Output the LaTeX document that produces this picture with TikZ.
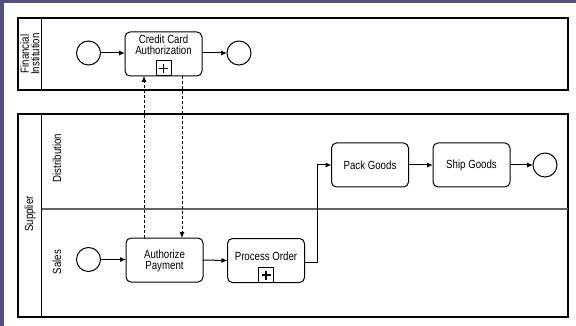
\documentclass[tikz,border=0pt]{standalone}
\usepackage{fontspec}
\setmainfont[FakeStretch=0.82]{Liberation Sans}
\usetikzlibrary{arrows.meta}
\definecolor{bandcol}{RGB}{82,80,128}
\definecolor{lanegray}{RGB}{100,100,100}
\begin{document}
\begin{tikzpicture}[x=1pt,y=-1pt,
  every node/.style={inner sep=0pt, outer sep=0pt},
  task/.style={draw, rounded corners=5pt, line width=1pt, minimum width=77pt, minimum height=44pt},
  tasktext/.style={align=center, font=\fontsize{11.8}{10.5}\selectfont},
  evt/.style={draw, circle, line width=1pt, minimum size=24pt},
  plusbox/.style={draw, line width=1pt, minimum size=15pt, anchor=south},
  flow/.style={line width=1pt, -{Latex[length=6pt,width=5pt]}},
  msg/.style={line width=0.8pt, dashed, dash pattern=on 3pt off 2pt, -{Latex[length=6pt,width=5pt]}},
  lbl/.style={rotate=90, align=center, font=\fontsize{11.8}{10.5}\selectfont},
  pool/.style={line width=1.2pt}]
\useasboundingbox (0,0) rectangle (576,326);
\fill[white] (0,0) rectangle (576,326);
% background band
\fill[bandcol] (0,0) rectangle (576,3);
\fill[bandcol] (0,0) rectangle (4,326);
% Financial Institution pool
\draw[pool] (18,18) rectangle (568,90);
\draw[pool] (41.5,18) -- (41.5,90);
\node[lbl] (fi) at (30,54) {Financial\\Institution};
% Supplier pool
\draw[pool] (18,114) rectangle (568,317);
\draw[pool] (41.5,114) -- (41.5,317);
\draw[line width=1.2pt, lanegray] (41.5,209) -- (568,209);
\node[lbl] (sup) at (30,214) {Supplier};
\node[lbl] (dist) at (57,158) {Distribution};
\node[lbl] (sales) at (57,262) {Sales};
% Financial nodes
\node[evt] (s1) at (88.5,53) {};
\node[task] (cc) at (163.5,54) {};
\node[tasktext] (cct) at (163.5,45) {Credit Card\\Authorization};
\node[plusbox] (ccp) at (cc.south) {};
\draw[line width=1.4pt] ([xshift=-4.5pt]ccp.center) -- ([xshift=4.5pt]ccp.center)
  ([yshift=-4.5pt]ccp.center) -- ([yshift=4.5pt]ccp.center);
\node[evt] (e1) at (239,53) {};
\draw[flow] (s1) -- (s1 -| cc.west);
\draw[flow] (e1 -| cc.east) -- (e1);
% Sales nodes
\node[evt] (s2) at (88.5,259.5) {};
\node[task] (ap) at (164.5,260) {};
\node[tasktext] (apt) at (164.5,261) {Authorize\\Payment};
\node[task] (po) at (266,260.5) {};
\node[tasktext] (pot) at (266,256) {Process Order};
\node[plusbox] (pop) at (po.south) {};
\draw[line width=1.4pt] ([xshift=-4.5pt]pop.center) -- ([xshift=4.5pt]pop.center)
  ([yshift=-4.5pt]pop.center) -- ([yshift=4.5pt]pop.center);
\draw[flow] (s2) -- (s2 -| ap.west);
\draw[flow] (ap.east) -- (po.west);
% Distribution nodes
\node[task] (pg) at (370,165) {};
\node[tasktext] (pgt) at (370,165) {Pack Goods};
\node[task] (sg) at (471.5,165) {};
\node[tasktext] (sgt) at (471.5,165) {Ship Goods};
\node[evt] (e2) at (545,165) {};
\coordinate (bend) at (317,262);
\draw[flow] (po.east |- bend) -- (bend) |- (pg.west);
\draw[flow] (pg.east) -- (sg.west);
\draw[flow] (sg.east) -- (e2);
% message flows
\coordinate (m1) at (144,0);
\coordinate (m2) at (182,0);
\draw[msg] (m1 |- ap.north) -- (m1 |- cc.south);
\draw[msg] (m2 |- cc.south) -- (m2 |- ap.north);
\end{tikzpicture}
\end{document}
